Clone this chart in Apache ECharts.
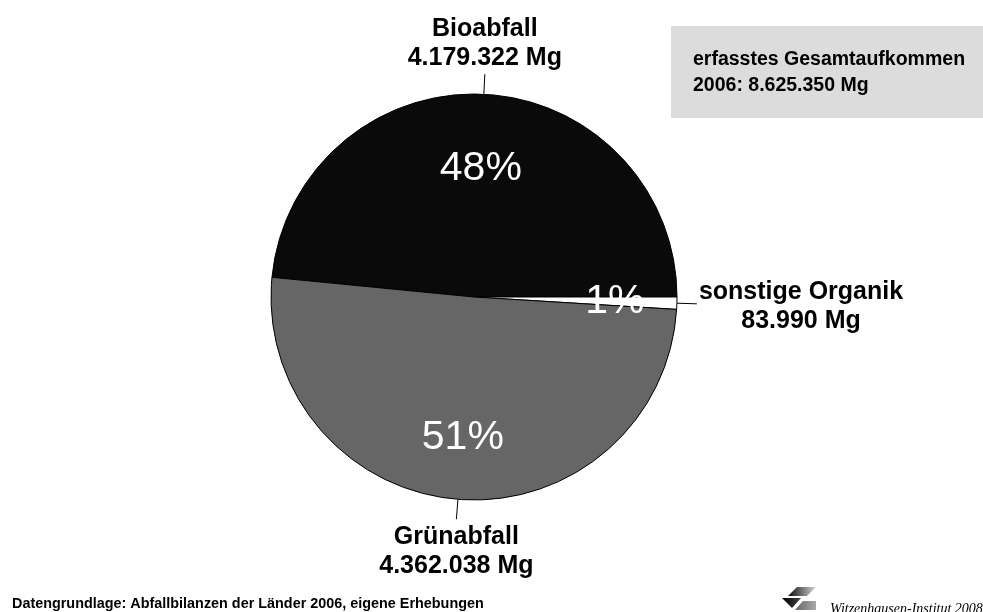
<!DOCTYPE html>
<html>
<head>
<meta charset="utf-8">
<script src="https://cdn.jsdelivr.net/npm/echarts@6/dist/echarts.min.js"></script>
<style>
html,body{margin:0;padding:0;background:#fff;}
#c{width:983px;height:612px;}
</style>
</head>
<body>
<div id="c"></div>
<script>
const categories = ['Bioabfall', 'sonstige Organik', 'Grünabfall'];
const values = [4179322, 83990, 4362038];
const totalText = ['erfasstes Gesamtaufkommen', '2006: 8.625.350 Mg'];
const sourceText = 'Datengrundlage: Abfallbilanzen der Länder 2006, eigene Erhebungen';
const logoText = 'Witzenhausen-Institut 2008';
const colors = ['#0a0a0a', '#ffffff', '#666666'];

function fmt(n){ return String(n).replace(/\B(?=(\d{3})+(?!\d))/g, '.'); }

const total = values.reduce((a,b)=>a+b,0);
const startAngle = values[0] / total * 360;

const chart = echarts.init(document.getElementById('c'), null, {renderer:'canvas'});
const FONT = '"Liberation Sans", Arial, sans-serif';

const pieData = categories.map((c,i)=>({name:c, value:values[i], itemStyle:{color:colors[i]}}));

chart.setOption({
  animation: false,
  backgroundColor: '#ffffff',
  graphic: [
    {type:'rect', shape:{x:671, y:26, width:312, height:92}, style:{fill:'#dcdcdc'}},
    {type:'text', x:693, y:60, style:{text:totalText[0], font:'bold 19.5px ' + FONT, fill:'#000', verticalAlign:'middle'}},
    {type:'text', x:693, y:86, style:{text:totalText[1], font:'bold 19.5px ' + FONT, fill:'#000', verticalAlign:'middle'}},
    {type:'text', x:12, y:604, style:{text:sourceText, font:'bold 14.4px ' + FONT, fill:'#000', verticalAlign:'middle'}},
    {type:'polygon', shape:{points:[[797,587],[816,587],[807,596],[788,596]]},
      style:{fill:{type:'linear', x:0, y:0, x2:1, y2:0, colorStops:[{offset:0, color:'#0a0a0a'},{offset:1, color:'#d8d8d8'}]}}},
    {type:'polygon', shape:{points:[[782,598],[801,598],[792,608]]},
      style:{fill:{type:'linear', x:0, y:0, x2:1, y2:0, colorStops:[{offset:0, color:'#000'},{offset:1, color:'#444'}]}}},
    {type:'polygon', shape:{points:[[803,601],[816,601],[816,610],[795,610]]},
      style:{fill:{type:'linear', x:0, y:0, x2:1, y2:0, colorStops:[{offset:0, color:'#666'},{offset:1, color:'#aaa'}]}}},
    {type:'text', x:830, y:602, style:{text:logoText, font:'italic 14px "Liberation Serif", "Times New Roman", serif', fill:'#000', verticalAlign:'top'}}
  ],
  series: [
    {
      type: 'pie',
      center: [474, 297],
      radius: [0, 203],
      startAngle: startAngle,
      clockwise: true,
      avoidLabelOverlap: false,
      data: pieData,
      itemStyle: {borderColor:'#000', borderWidth:1},
      label: {
        show: true,
        position: 'outside',
        formatter: p => p.name + '\n' + fmt(p.value) + ' Mg',
        fontFamily: FONT,
        fontWeight: 'bold',
        fontSize: 25,
        lineHeight: 29,
        color: '#000',
        textAlign: 'center'
      },
      labelLine: {show:true, length:20, length2:0, lineStyle:{color:'#000', width:1}},
      labelLayout: function(p){
        const pts = p.labelLinePoints;
        if (!pts) return {};
        const e = pts[1];
        const w = p.labelRect.width;
        const pp = [pts[0], pts[1], pts[1]];
        if (p.dataIndex === 0) return {x:e[0], y:e[1]-2, align:'center', verticalAlign:'bottom', labelLinePoints:pp};
        if (p.dataIndex === 2) return {x:e[0], y:e[1]+3, align:'center', verticalAlign:'top', labelLinePoints:pp};
        return {x:e[0]+2+w/2, y:e[1]+3, align:'center', verticalAlign:'middle', labelLinePoints:pp};
      },
      emphasis: {disabled:true}
    },
    {
      type: 'pie',
      center: [474, 297],
      radius: [73, 203],
      startAngle: startAngle,
      clockwise: true,
      silent: true,
      avoidLabelOverlap: false,
      data: categories.map((c,i)=>({name:c, value:values[i]})),
      itemStyle: {color:'rgba(0,0,0,0)', borderWidth:0},
      label: {
        show: true,
        position: 'inside',
        formatter: p => Math.round(p.percent) + '%',
        fontFamily: FONT,
        fontSize: 41,
        color: '#fff'
      },
      labelLayout: function(p){
        if (p.dataIndex === 0) return {dy: 13};
        return {};
      },
      labelLine: {show:false},
      emphasis: {disabled:true}
    }
  ]
});
</script>
</body>
</html>
